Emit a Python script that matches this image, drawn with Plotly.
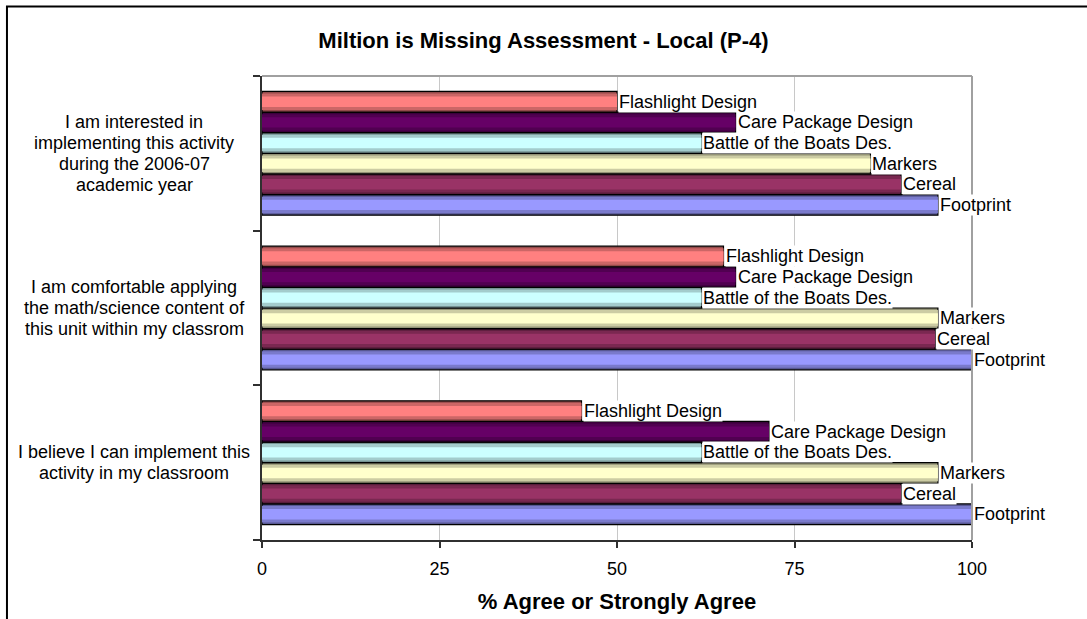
import plotly.graph_objects as go

# Survey statements (bottom to top on the chart), one list of lines each
statements = [
    ["I believe I can implement this", "activity in my classroom"],
    ["I am comfortable applying", "the math/science content of",
     "this unit within my classrom"],
    ["I am interested in", "implementing this activity",
     "during the 2006-07", "academic year"],
]

# Activities, listed from the lowest bar in each group to the highest
activities = ["Footprint", "Cereal", "Markers", "Battle of the Boats Des.",
              "Care Package Design", "Flashlight Design"]

# % agree or strongly agree, one list per activity, ordered like `statements`
footprint = [100.0, 100.0, 95.2]
cereal = [90.0, 94.8, 90.0]
markers = [95.2, 95.2, 85.7]
battle = [61.9, 61.9, 61.9]
care_package = [71.4, 66.7, 66.7]
flashlight = [45.0, 65.0, 50.0]

series_values = [footprint, cereal, markers, battle, care_package, flashlight]
colors = ["#9999FF", "#993366", "#FFFFCC", "#CCFFFF", "#660066", "#FF8080"]

x_ticks = [0, 25, 50, 75, 100]

FONT = "Liberation Sans, Arial"


def shade(hex_color, k):
    h = hex_color.lstrip("#")
    r, g, b = (int(h[i:i + 2], 16) for i in (0, 2, 4))
    return "rgb({},{},{})".format(int(r * k), int(g * k), int(b * k))


n = len(activities)
group_span = 0.8
slot = group_span / n
positions = list(range(len(statements)))

fig = go.Figure()

# Each bar is built from nested layers to give it a rounded, shaded look
layers = [(1.0, 0.58, True), (0.8, 0.8, False), (0.5, 1.0, False)]
for i, (name, vals, col) in enumerate(zip(activities, series_values, colors)):
    for frac, k, outline in layers:
        w = slot * frac
        off = -group_span / 2 + i * slot + (slot - w) / 2
        fig.add_trace(go.Bar(
            x=vals, y=positions, orientation="h",
            width=w, offset=off,
            marker=dict(color=shade(col, k),
                        line=dict(color="black", width=1.2 if outline else 0)),
            name=name, showlegend=False, hoverinfo="skip",
        ))
    # Series name printed just past the end of each bar
    for p, v in zip(positions, vals):
        fig.add_annotation(
            x=v, y=p - group_span / 2 + (i + 0.5) * slot,
            xref="x", yref="y", text=name, showarrow=False,
            xanchor="left", yanchor="middle", xshift=1,
            bgcolor="white", borderpad=0,
            font=dict(family=FONT, size=18, color="black"),
        )

# Category labels, centred to the left of the plot with tight line spacing
line_pitch = 21
for p, lines in zip(positions, statements):
    m = len(lines)
    for j, line in enumerate(lines):
        fig.add_annotation(
            x=-0.18, y=p, xref="paper", yref="y", text=line, showarrow=False,
            xanchor="center", yanchor="middle", align="center",
            yshift=((m - 1) / 2 - j) * line_pitch,
            font=dict(family=FONT, size=18, color="black"),
        )

# Plot frame: light top/right edges and the outer chart border
fig.add_shape(type="line", xref="paper", yref="paper", x0=0, x1=1, y0=1, y1=1,
              line=dict(color="#a0a0a0", width=2))
fig.add_shape(type="line", xref="paper", yref="paper", x0=1, x1=1, y0=0, y1=1,
              line=dict(color="#a0a0a0", width=2))
fig.add_shape(type="rect", xref="paper", yref="paper",
              x0=-0.3592, x1=1.4, y0=-0.5, y1=1.1498,
              line=dict(color="black", width=2), layer="above")

fig.update_layout(
    width=1087, height=619,
    margin=dict(l=262, r=115, t=76, b=79, autoexpand=False),
    paper_bgcolor="white", plot_bgcolor="white",
    barmode="overlay",
    showlegend=False,
    font=dict(family=FONT, size=18, color="black"),
    title=dict(text="<b>Miltion is Missing Assessment - Local (P-4)</b>",
               x=0.5, xanchor="center", y=0.935, yanchor="middle",
               font=dict(size=22, color="black")),
    xaxis=dict(range=[0, 100], tickvals=x_ticks, ticktext=[str(t) for t in x_ticks],
               showgrid=True, gridcolor="#c8c8c8", gridwidth=1,
               showline=True, linecolor="#303030", linewidth=2,
               ticks="outside", ticklen=6, tickcolor="#303030", tickwidth=1.5,
               ticklabelstandoff=5, automargin=False,
               zeroline=False,
               title=dict(text="<b>% Agree or Strongly Agree</b>",
                          font=dict(size=22), standoff=16),
               tickfont=dict(size=18)),
    yaxis=dict(range=[-0.5, 2.5], tickvals=[-0.5, 0.5, 1.5, 2.5],
               ticktext=["", "", "", ""], showgrid=False, automargin=False,
               showline=True, linecolor="#303030", linewidth=2,
               ticks="outside", ticklen=7, tickcolor="#303030", tickwidth=1.5,
               zeroline=False),
)

fig.write_html("out.html")
